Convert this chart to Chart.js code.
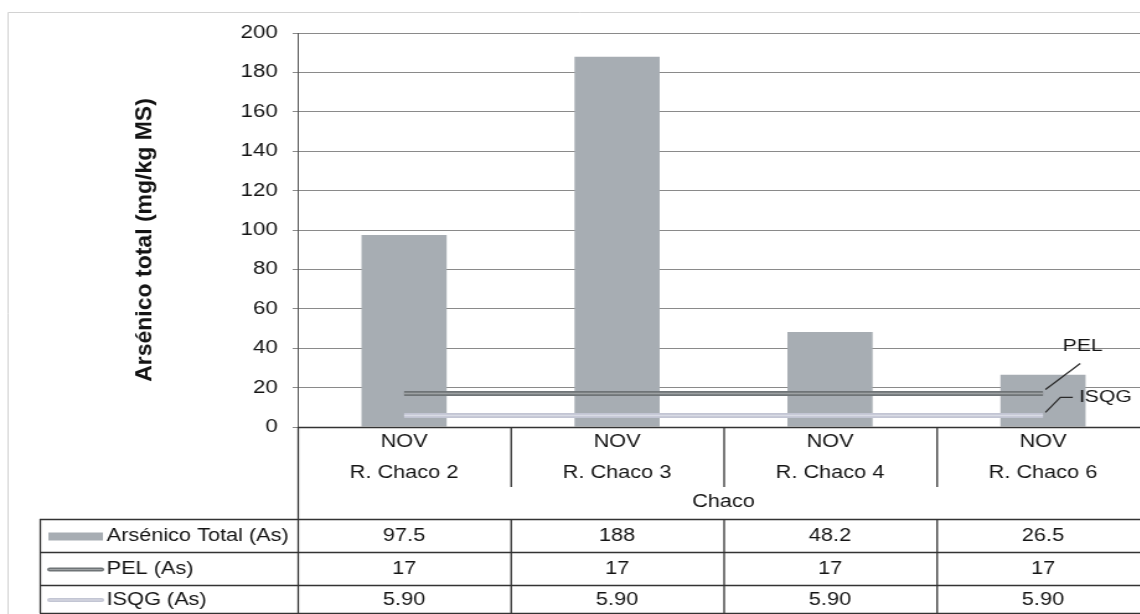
<!DOCTYPE html>
<html>
<head>
<meta charset="utf-8">
<script src="https://cdn.jsdelivr.net/npm/chart.js@4.4.0/dist/chart.umd.min.js"></script>
<style>
  html, body { margin: 0; padding: 0; background: #fff; overflow: hidden; }
  /* the scanned original is stretched sideways, so the canvas is too */
  #chart { display: block; transform: scale(1.24, 1); transform-origin: 0 0; }
</style>
</head>
<body>
<canvas id="chart" width="928" height="614"></canvas>
<script>
//------------------------ DATA ----------------------------

const groupLabel = "Chaco";
const months = ["NOV", "NOV", "NOV", "NOV"];
const stations = ["R. Chaco 2", "R. Chaco 3", "R. Chaco 4", "R. Chaco 6"];
const arsenicTotal = [97.5, 188, 48.2, 26.5];
const pelValues = [17, 17, 17, 17];
const isqgValues = [5.9, 5.9, 5.9, 5.9];
const seriesNames = ["Arsénico Total (As)", "PEL (As)", "ISQG (As)"];
const yMin = 0;
const yMax = 200;
const yStep = 20;

//------------------------ STYLE ----------------------------

const FONT = '"Liberation Sans", Arial, sans-serif';
const TEXT = "#141414";
const BAR_COLOR = "#a7adb3";
const PEL_COLOR = "#6f7477";
const PEL_STRIPE = "#9ea2a4";
const ISQG_COLOR = "#c2c5d3";
const ISQG_STRIPE = "#d9dce5";
const TABLE_LINE = "#333";
const STRETCH = 1.24;

// table geometry (canvas px)
const legendLeft = 32;
const dividerBottom = 487;
const rowLines = [519, 552, 585, 613];

function tableText() {
  return [
    arsenicTotal.map((v) => String(v)),
    pelValues.map((v) => String(v)),
    isqgValues.map((v) => v.toFixed(2)),
  ];
}

//------------------------ PLUGINS ----------------------------

const framePlugin = {
  id: "frame",
  beforeDraw(chart) {
    const ctx = chart.ctx;
    ctx.save();
    ctx.strokeStyle = "#d2d2d2";
    ctx.lineWidth = 1;
    ctx.beginPath();
    ctx.moveTo(6.5, chart.height);
    ctx.lineTo(6.5, 12.5);
    ctx.lineTo(chart.width, 12.5);
    ctx.stroke();

    // y axis title (undo the sideways stretch so glyphs keep their shape)
    ctx.fillStyle = TEXT;
    ctx.font = "bold 23px " + FONT;
    ctx.textAlign = "center";
    ctx.textBaseline = "middle";
    ctx.translate(117, 240);
    ctx.scale(1 / STRETCH, 1);
    ctx.rotate(-Math.PI / 2);
    ctx.fillText("Arsénico total (mg/kg MS)", 0, 0);
    ctx.restore();
  },
};

// centre stripe on the threshold lines + their callouts
const linesPlugin = {
  id: "lineDecor",
  afterDatasetsDraw(chart) {
    const ctx = chart.ctx;
    ctx.save();
    chart.data.datasets.forEach((ds, i) => {
      if (!ds.stripe) return;
      const pts = chart.getDatasetMeta(i).data;
      ctx.beginPath();
      pts.forEach((p, k) => (k ? ctx.lineTo(p.x, p.y) : ctx.moveTo(p.x, p.y)));
      ctx.strokeStyle = ds.stripe;
      ctx.lineWidth = 1.5;
      ctx.stroke();
    });

    const pel = chart.getDatasetMeta(0).data;
    const isqg = chart.getDatasetMeta(1).data;
    const p = pel[pel.length - 1];
    const q = isqg[isqg.length - 1];

    ctx.strokeStyle = "#2a2a2a";
    ctx.lineWidth = 1.2;
    ctx.beginPath();
    ctx.moveTo(p.x + 2, p.y - 4);
    ctx.lineTo(p.x + 30, p.y - 30);
    ctx.moveTo(q.x + 2, q.y - 3);
    ctx.lineTo(q.x + 14, q.y - 18);
    ctx.lineTo(q.x + 24, q.y - 18);
    ctx.stroke();

    ctx.fillStyle = TEXT;
    ctx.font = "17px " + FONT;
    ctx.textBaseline = "middle";
    ctx.textAlign = "center";
    ctx.fillText("PEL", p.x + 32, p.y - 47);
    ctx.textAlign = "left";
    ctx.fillText("ISQG", q.x + 29, q.y - 18);
    ctx.restore();
  },
};

const tablePlugin = {
  id: "dataTable",
  afterDraw(chart) {
    const { ctx, chartArea, scales } = chart;
    const x = scales.x;
    const half = (x.getPixelForValue(1) - x.getPixelForValue(0)) / 2;
    const centers = stations.map((s, i) => x.getPixelForValue(i));
    const edges = centers.map((c) => c - half);
    const top = chartArea.bottom;
    const bottom = rowLines[rowLines.length - 1];

    ctx.save();
    ctx.strokeStyle = TABLE_LINE;
    ctx.lineWidth = 1.3;
    ctx.beginPath();
    // axis line / table top
    ctx.moveTo(chartArea.left, top + 0.5);
    ctx.lineTo(chartArea.right, top + 0.5);
    ctx.moveTo(chartArea.left + 0.5, top);
    ctx.lineTo(chartArea.left + 0.5, bottom);
    // short dividers under the category labels
    edges.slice(1).forEach((e) => {
      ctx.moveTo(e + 0.5, top);
      ctx.lineTo(e + 0.5, dividerBottom);
      ctx.moveTo(e + 0.5, rowLines[0]);
      ctx.lineTo(e + 0.5, bottom);
    });
    ctx.moveTo(legendLeft + 0.5, rowLines[0]);
    ctx.lineTo(legendLeft + 0.5, bottom);
    rowLines.forEach((r) => {
      ctx.moveTo(legendLeft, r + 0.5);
      ctx.lineTo(chartArea.right, r + 0.5);
    });
    ctx.stroke();

    ctx.fillStyle = TEXT;
    ctx.font = "17.5px " + FONT;
    ctx.textAlign = "center";
    ctx.textBaseline = "middle";
    centers.forEach((c, i) => {
      ctx.fillText(months[i], c, 442);
      ctx.fillText(stations[i], c, 473);
    });
    ctx.fillText(groupLabel, (chartArea.left + chartArea.right) / 2, 502);

    const rows = tableText();
    rows.forEach((row, r) => {
      const cy = (rowLines[r] + rowLines[r + 1]) / 2 + 1;
      row.forEach((txt, i) => ctx.fillText(txt, centers[i], cy));
    });

    // legend keys
    ctx.textAlign = "left";
    seriesNames.forEach((name, r) => {
      const cy = (rowLines[r] + rowLines[r + 1]) / 2 + 1;
      if (r === 0) {
        ctx.fillStyle = BAR_COLOR;
        ctx.fillRect(legendLeft + 7, cy - 4, 44, 8);
      } else {
        ctx.lineCap = "round";
        ctx.strokeStyle = r === 1 ? PEL_COLOR : ISQG_COLOR;
        ctx.lineWidth = 4;
        ctx.beginPath();
        ctx.moveTo(legendLeft + 8, cy);
        ctx.lineTo(legendLeft + 50, cy);
        ctx.stroke();
        ctx.strokeStyle = r === 1 ? PEL_STRIPE : ISQG_STRIPE;
        ctx.lineWidth = 1.2;
        ctx.stroke();
      }
      ctx.fillStyle = TEXT;
      ctx.fillText(name, legendLeft + 54, cy);
    });
    ctx.restore();
  },
};

//------------------------ CHART ----------------------------

const chart = new Chart(document.getElementById("chart"), {
  type: "bar",
  data: {
    labels: stations,
    datasets: [
      {
        type: "line",
        label: seriesNames[1],
        data: pelValues,
        borderColor: PEL_COLOR,
        borderWidth: 5,
        pointRadius: 0,
        fill: false,
        order: 1,
        stripe: PEL_STRIPE,
      },
      {
        type: "line",
        label: seriesNames[2],
        data: isqgValues,
        borderColor: ISQG_COLOR,
        borderWidth: 5,
        pointRadius: 0,
        fill: false,
        order: 1,
        stripe: ISQG_STRIPE,
      },
      {
        type: "bar",
        label: seriesNames[0],
        data: arsenicTotal,
        backgroundColor: BAR_COLOR,
        barPercentage: 0.4,
        categoryPercentage: 1,
        order: 2,
      },
    ],
  },
  options: {
    responsive: false,
    animation: false,
    layout: { padding: { top: 33, bottom: 187, left: 0, right: 1 } },
    plugins: {
      legend: { display: false },
      tooltip: { enabled: false },
    },
    scales: {
      x: { type: "category", offset: true, display: false },
      y: {
        min: yMin,
        max: yMax,
        ticks: {
          stepSize: yStep,
          padding: 12,
          color: TEXT,
          font: { family: FONT, size: 18 },
        },
        grid: { color: "#8a8a8a", lineWidth: 1, tickLength: 4 },
        border: { color: "#555", width: 1 },
        afterFit(scale) {
          scale.width = 240;
        },
      },
    },
  },
  plugins: [framePlugin, linesPlugin, tablePlugin],
});
</script>
</body>
</html>
